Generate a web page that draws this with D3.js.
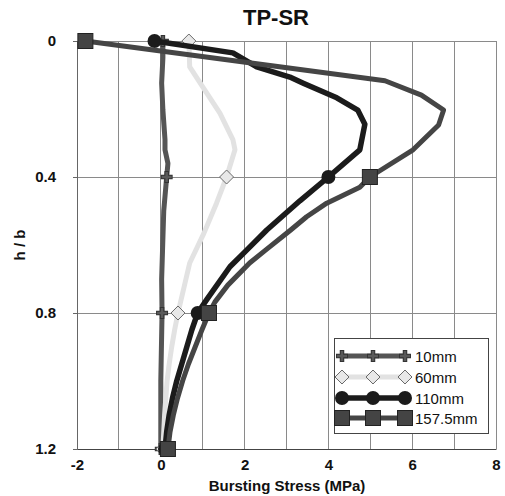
<!DOCTYPE html>
<html><head><meta charset="utf-8">
<script src="https://cdn.jsdelivr.net/npm/d3@7/dist/d3.min.js"></script>
<style>body{margin:0;background:#fff}svg{display:block}text{font-family:"Liberation Sans",Arial,sans-serif}</style>
</head><body>
<script>
// ---- data ----
const seriesNames = ["10mm", "60mm", "110mm", "157.5mm"];
const h10   = [0, 0.05, 0.124, 0.203, 0.29, 0.32, 0.36, 0.4, 0.5, 0.7, 0.8, 1.0, 1.2];
const s10   = [0.05, 0.05, 0.02, 0.05, 0.1, 0.1, 0.17, 0.14, 0.07, 0.02, 0.03, 0.0, 0.0];
const h60   = [0, 0.076, 0.135, 0.212, 0.29, 0.32, 0.4, 0.477, 0.565, 0.653, 0.8, 0.85, 0.9, 0.95, 1.0, 1.1, 1.2];
const s60   = [0.67, 0.69, 1.0, 1.41, 1.72, 1.77, 1.57, 1.33, 1.03, 0.69, 0.41, 0.33, 0.26, 0.2, 0.15, 0.09, 0.05];
const h110  = [0, 0.035, 0.076, 0.106, 0.124, 0.167, 0.203, 0.245, 0.32, 0.4, 0.47, 0.556, 0.615, 0.664, 0.76, 0.8, 0.85, 0.9, 0.95, 1.0, 1.05, 1.1, 1.15, 1.2];
const s110  = [-0.15, 1.72, 2.29, 3.08, 3.4, 4.2, 4.7, 4.87, 4.75, 4.0, 3.32, 2.53, 2.05, 1.65, 1.1, 0.88, 0.74, 0.62, 0.5, 0.38, 0.28, 0.2, 0.14, 0.1];
const h157  = [0, 0.117, 0.159, 0.203, 0.247, 0.32, 0.4, 0.43, 0.477, 0.517, 0.556, 0.615, 0.653, 0.718, 0.768, 0.8, 0.85, 0.9, 0.95, 1.0, 1.05, 1.1, 1.15, 1.2];
const s157  = [-1.8, 5.35, 6.22, 6.75, 6.63, 6.02, 4.99, 4.75, 3.96, 3.48, 3.1, 2.5, 2.12, 1.6, 1.29, 1.15, 0.98, 0.82, 0.66, 0.52, 0.4, 0.3, 0.22, 0.17];
const markerLevels = [0, 0.4, 0.8, 1.2];
const xTicks = [-2, 0, 2, 4, 6, 8];
const yTicks = [0, 0.4, 0.8, 1.2];

const W = 505, H = 496;
const L = 77, R = 496, T = 41, B = 449;
const svg = d3.select("body").append("svg").attr("width", W).attr("height", H);
const x = d3.scaleLinear().domain([-2, 8]).range([L, R]);
const y = d3.scaleLinear().domain([0, 1.2]).range([T, B]);

// grid
svg.append("g").selectAll("line").data(d3.range(-1, 9)).join("line")
  .attr("x1", d => x(d)).attr("x2", d => x(d)).attr("y1", T).attr("y2", B)
  .attr("stroke", "#8a8a8a").attr("stroke-width", 1).attr("shape-rendering", "crispEdges");
svg.append("g").selectAll("line").data([0, 0.4, 0.8]).join("line")
  .attr("x1", L).attr("x2", R).attr("y1", d => y(d)).attr("y2", d => y(d))
  .attr("stroke", "#8a8a8a").attr("stroke-width", 1).attr("shape-rendering", "crispEdges");

// axes
const fmt = d => String(d);
const yAxis = svg.append("g").attr("transform", `translate(${L},0)`)
  .call(d3.axisLeft(y).tickValues(yTicks).tickSize(4).tickFormat(fmt));
yAxis.select(".domain").attr("stroke", "#666");
yAxis.selectAll(".tick line").attr("stroke", "#666");
yAxis.selectAll("text").attr("font-size", 15).attr("font-weight", "bold").attr("fill", "#111").attr("x", -21);
const xAxis = svg.append("g").attr("transform", `translate(0,${B})`)
  .call(d3.axisBottom(x).tickValues(xTicks).tickSize(0).tickFormat(fmt));
xAxis.select(".domain").attr("stroke", "#444");
xAxis.selectAll("text").attr("font-size", 15).attr("font-weight", "bold").attr("fill", "#111").attr("dy", "1.2em");

// titles
svg.append("text").attr("x", 276).attr("y", 25).attr("text-anchor", "middle")
  .attr("font-size", 22).attr("font-weight", "bold").attr("fill", "#111").text("TP-SR");
svg.append("text").attr("x", 287).attr("y", 491).attr("text-anchor", "middle")
  .attr("font-size", 15).attr("font-weight", "bold").attr("fill", "#111").text("Bursting Stress (MPa)");
svg.append("text").attr("transform", "translate(25,245) rotate(-90)").attr("text-anchor", "middle")
  .attr("font-size", 15).attr("font-weight", "bold").attr("fill", "#111").text("h / b");

// series
const styles = [
  {h: h10, s: s10, color: "#555555", w: 5, marker: "plus"},
  {h: h60, s: s60, color: "#e2e2e2", w: 5, marker: "diamond"},
  {h: h110, s: s110, color: "#1b1b1b", w: 5.5, marker: "circle"},
  {h: h157, s: s157, color: "#454545", w: 5, marker: "square"}
];
const line = d3.line().x(d => x(d[1])).y(d => y(d[0]));

function drawMarker(g, type, cx, cy) {
  if (type === "plus") {
    g.append("path").attr("d", `M${cx-6},${cy}H${cx+6}M${cx},${cy-6}V${cy+6}`)
      .attr("stroke", "#333").attr("stroke-width", 4.5).attr("fill", "none");
    g.append("path").attr("d", `M${cx-5},${cy}H${cx+5}M${cx},${cy-5}V${cy+5}`)
      .attr("stroke", "#5a5a5a").attr("stroke-width", 2.5).attr("fill", "none");
  } else if (type === "diamond") {
    g.append("path").attr("d", `M${cx},${cy-7}L${cx+7},${cy}L${cx},${cy+7}L${cx-7},${cy}Z`)
      .attr("fill", "#e8e8e8").attr("stroke", "#6a6a6a").attr("stroke-width", 1);
  } else if (type === "circle") {
    g.append("circle").attr("cx", cx).attr("cy", cy).attr("r", 7).attr("fill", "#1b1b1b");
  } else {
    g.append("rect").attr("x", cx-7.5).attr("y", cy-7.5).attr("width", 15).attr("height", 15)
      .attr("fill", "#444").attr("stroke", "#222").attr("stroke-width", 1);
  }
}

styles.forEach(st => {
  const pts = st.h.map((h, i) => [h, st.s[i]]);
  const g = svg.append("g");
  g.append("path").datum(pts).attr("d", line).attr("fill", "none")
    .attr("stroke", st.color).attr("stroke-width", st.w)
    .attr("stroke-linejoin", "round").attr("stroke-linecap", "butt");
  pts.filter(p => markerLevels.includes(p[0])).forEach(p => drawMarker(g, st.marker, x(p[1]), y(p[0])));
});

// legend
const lg = svg.append("g");
lg.append("rect").attr("x", 334.5).attr("y", 338.5).attr("width", 154).attr("height", 95)
  .attr("fill", "#fff").attr("stroke", "#444").attr("stroke-width", 1);
const rowsY = [356, 377, 398, 418];
styles.forEach((st, i) => {
  const yy = rowsY[i];
  lg.append("line").attr("x1", 340).attr("x2", 406).attr("y1", yy).attr("y2", yy)
    .attr("stroke", st.color).attr("stroke-width", st.w);
  [342, 373, 405].forEach(cx => drawMarker(lg, st.marker, cx, yy));
  lg.append("text").attr("x", 415).attr("y", yy + 5.5).attr("font-size", 15).attr("fill", "#111").text(seriesNames[i]);
});
</script>
</body></html>
